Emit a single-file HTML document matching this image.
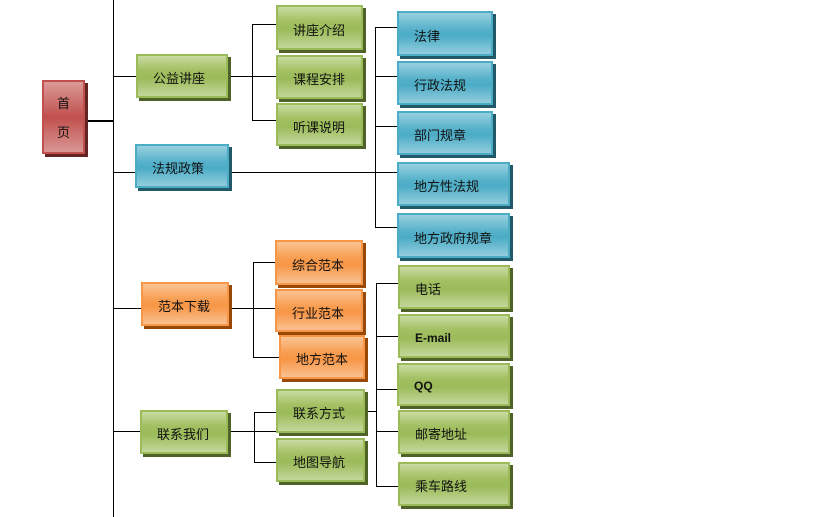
<!DOCTYPE html>
<html><head><meta charset="utf-8"><style>
body{margin:0;width:833px;height:517px;background:#fff;position:relative;overflow:hidden;font-family:"Liberation Sans","Noto Sans CJK SC",sans-serif;font-size:13px;color:#111}
.b{position:absolute;box-sizing:border-box;border:2px solid;display:flex;align-items:center;padding-left:15px;padding-top:3px;white-space:nowrap}
.g{border-color:#9bbb59;background:linear-gradient(#c8dba2,#a3c062 35%,#9bbb59 55%,#c3d69b);box-shadow:3px 3px 0 #4f6228}
.u{border-color:#4bacc6;background:linear-gradient(#98d0df,#56b1ca 40%,#4bacc6 55%,#93cddd);box-shadow:3px 3px 0 #215968}
.o{border-color:#f79646;background:linear-gradient(#fac393,#f89d50 40%,#f79646 55%,#fac090);box-shadow:3px 3px 0 #984807}
.r{border-color:#c0504d;background:linear-gradient(#dc9a98,#c0504d 50%,#d99694);box-shadow:3px 3px 0 #632523}
.h{position:absolute;height:1px;background:#000}
.v{position:absolute;width:1px;background:#000}
</style></head><body>
<div class="v" style="left:113px;top:0;height:517px"></div>
<div class="h" style="left:85px;top:120px;width:28px;height:2px"></div>
<div class="h" style="left:113px;top:76px;width:23px"></div>
<div class="h" style="left:113px;top:172px;width:22px"></div>
<div class="h" style="left:113px;top:308px;width:28px"></div>
<div class="h" style="left:113px;top:431px;width:27px"></div>
<div class="h" style="left:228px;top:76px;width:48px"></div>
<div class="v" style="left:252px;top:24px;height:97px"></div>
<div class="h" style="left:252px;top:24px;width:24px"></div>
<div class="h" style="left:252px;top:120px;width:24px"></div>
<div class="h" style="left:229px;top:172px;width:168px"></div>
<div class="v" style="left:375px;top:27px;height:201px"></div>
<div class="h" style="left:375px;top:27px;width:22px"></div>
<div class="h" style="left:375px;top:76px;width:22px"></div>
<div class="h" style="left:375px;top:126px;width:22px"></div>
<div class="h" style="left:375px;top:227px;width:22px"></div>
<div class="h" style="left:229px;top:308px;width:46px"></div>
<div class="v" style="left:253px;top:262px;height:96px"></div>
<div class="h" style="left:253px;top:262px;width:22px"></div>
<div class="h" style="left:253px;top:357px;width:26px"></div>
<div class="h" style="left:228px;top:431px;width:48px"></div>
<div class="v" style="left:254px;top:412px;height:51px"></div>
<div class="h" style="left:254px;top:412px;width:22px"></div>
<div class="h" style="left:254px;top:462px;width:22px"></div>
<div class="h" style="left:365px;top:411px;width:11px"></div>
<div class="v" style="left:376px;top:283px;height:204px"></div>
<div class="h" style="left:376px;top:283px;width:22px"></div>
<div class="h" style="left:376px;top:336px;width:22px"></div>
<div class="h" style="left:376px;top:389px;width:22px"></div>
<div class="h" style="left:376px;top:431px;width:22px"></div>
<div class="h" style="left:376px;top:486px;width:22px"></div>
<div class="b r" style="left:42px;top:80px;width:43px;height:74px;padding:0;flex-direction:column;justify-content:space-evenly"><span>首</span><span>页</span></div>
<div class="b g" style="left:136px;top:54px;width:92px;height:44px">公益讲座</div>
<div class="b u" style="left:135px;top:144px;width:94px;height:44px">法规政策</div>
<div class="b o" style="left:141px;top:282px;width:88px;height:44px">范本下载</div>
<div class="b g" style="left:140px;top:410px;width:88px;height:44px">联系我们</div>
<div class="b g" style="left:276px;top:5px;width:87px;height:45px">讲座介绍</div>
<div class="b g" style="left:276px;top:55px;width:87px;height:44px">课程安排</div>
<div class="b g" style="left:276px;top:103px;width:87px;height:43px">听课说明</div>
<div class="b u" style="left:397px;top:11px;width:96px;height:45px">法律</div>
<div class="b u" style="left:397px;top:61px;width:96px;height:44px">行政法规</div>
<div class="b u" style="left:397px;top:111px;width:96px;height:44px">部门规章</div>
<div class="b u" style="left:397px;top:162px;width:113px;height:44px">地方性法规</div>
<div class="b u" style="left:397px;top:213px;width:113px;height:45px">地方政府规章</div>
<div class="b o" style="left:275px;top:240px;width:88px;height:45px">综合范本</div>
<div class="b o" style="left:275px;top:289px;width:88px;height:43px">行业范本</div>
<div class="b o" style="left:279px;top:335px;width:86px;height:44px">地方范本</div>
<div class="b g" style="left:276px;top:389px;width:89px;height:44px">联系方式</div>
<div class="b g" style="left:276px;top:438px;width:89px;height:44px">地图导航</div>
<div class="b g" style="left:398px;top:265px;width:112px;height:44px">电话</div>
<div class="b g" style="left:398px;top:314px;width:112px;height:44px;font-weight:bold;font-size:12px">E-mail</div>
<div class="b g" style="left:397px;top:363px;width:113px;height:43px;font-weight:bold;font-size:12px">QQ</div>
<div class="b g" style="left:398px;top:410px;width:112px;height:44px">邮寄地址</div>
<div class="b g" style="left:398px;top:462px;width:112px;height:44px">乘车路线</div>
</body></html>
